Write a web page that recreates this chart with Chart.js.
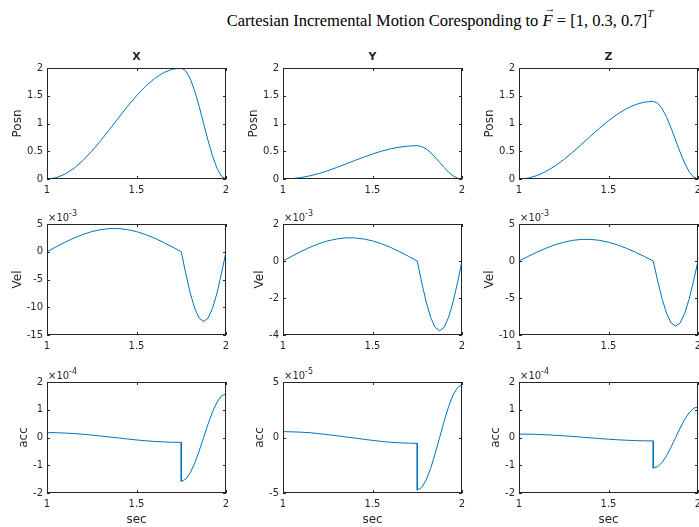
<!DOCTYPE html>
<html>
<head>
<meta charset="utf-8">
<script src="https://cdn.jsdelivr.net/npm/chart.js@4.4.1/dist/chart.umd.min.js"></script>
<style>
  body { margin: 0; width: 699px; height: 527px; overflow: hidden; background: #fff; position: relative; }
  canvas { position: absolute; }
  #title { position: absolute; top: 9px; left: 0; width: 880px; text-align: center; white-space: nowrap;
           font-family: "Liberation Serif", "DejaVu Serif", serif; font-size: 16.5px; color: #000; }
  #title .vec { position: relative; font-style: italic; }
  #title .arr { position: absolute; left: 2px; top: -9px; font-size: 11px; font-style: normal; }
  #title sup { font-size: 11px; font-style: italic; position: relative; top: -2px; }
</style>
</head>
<body>
<div id="title">Cartesian Incremental Motion Coresponding to <span class="vec">F<span class="arr">&rarr;</span></span> = [1, 0.3, 0.7]<sup>T</sup></div>
<script>
// time samples (sec)
const tPos = [1.00, 1.05, 1.10, 1.15, 1.20, 1.25, 1.30, 1.35, 1.40, 1.45, 1.50, 1.55, 1.60, 1.65, 1.70, 1.75,
              1.775, 1.80, 1.825, 1.85, 1.875, 1.90, 1.925, 1.95, 1.975, 2.00];
// acc has a jump at 1.75 so that time is listed twice
const tAcc = [1.00, 1.05, 1.10, 1.15, 1.20, 1.25, 1.30, 1.35, 1.40, 1.45, 1.50, 1.55, 1.60, 1.65, 1.70, 1.75,
              1.75, 1.775, 1.80, 1.825, 1.85, 1.875, 1.90, 1.925, 1.95, 1.975, 2.00];

// position
const posX = [0, 0.022, 0.087, 0.191, 0.331, 0.5, 0.691, 0.896, 1.105, 1.309, 1.5, 1.669, 1.809, 1.914, 1.978, 2.0,
              1.951, 1.809, 1.588, 1.309, 1.0, 0.691, 0.412, 0.191, 0.049, 0];
const posY = [0, 0.007, 0.026, 0.057, 0.099, 0.15, 0.207, 0.269, 0.332, 0.393, 0.45, 0.501, 0.543, 0.574, 0.593, 0.6,
              0.585, 0.543, 0.476, 0.393, 0.3, 0.207, 0.124, 0.057, 0.015, 0];
const posZ = [0, 0.015, 0.061, 0.134, 0.232, 0.35, 0.484, 0.627, 0.773, 0.916, 1.05, 1.168, 1.266, 1.340, 1.385, 1.4,
              1.366, 1.266, 1.111, 0.916, 0.7, 0.484, 0.288, 0.134, 0.034, 0];

// velocity (x 10^-3)
const velX = [0, 0.87, 1.70, 2.46, 3.11, 3.63, 3.98, 4.17, 4.17, 3.98, 3.63, 3.11, 2.46, 1.70, 0.87, 0,
              -3.88, -7.39, -10.17, -11.95, -12.57, -11.95, -10.17, -7.39, -3.88, 0];
const velY = [0, 0.26, 0.51, 0.74, 0.93, 1.09, 1.19, 1.25, 1.25, 1.19, 1.09, 0.93, 0.74, 0.51, 0.26, 0,
              -1.16, -2.22, -3.05, -3.59, -3.77, -3.59, -3.05, -2.22, -1.16, 0];
const velZ = [0, 0.61, 1.19, 1.72, 2.18, 2.54, 2.79, 2.92, 2.92, 2.79, 2.54, 2.18, 1.72, 1.19, 0.61, 0,
              -2.72, -5.17, -7.12, -8.37, -8.80, -8.37, -7.12, -5.17, -2.72, 0];

// acceleration (x 10^-4, x 10^-5, x 10^-4)
const accX = [0.175, 0.172, 0.160, 0.142, 0.117, 0.088, 0.054, 0.018, -0.018, -0.054, -0.088, -0.117, -0.142, -0.160, -0.172, -0.175,
              -1.579, -1.502, -1.277, -0.928, -0.488, 0, 0.488, 0.928, 1.277, 1.502, 1.579];
const accY = [0.53, 0.51, 0.48, 0.43, 0.35, 0.26, 0.16, 0.05, -0.05, -0.16, -0.26, -0.35, -0.43, -0.48, -0.51, -0.53,
              -4.74, -4.51, -3.83, -2.78, -1.46, 0, 1.46, 2.78, 3.83, 4.51, 4.74];
const accZ = [0.123, 0.120, 0.112, 0.099, 0.082, 0.061, 0.038, 0.013, -0.013, -0.038, -0.061, -0.082, -0.099, -0.112, -0.120, -0.123,
              -1.105, -1.051, -0.894, -0.650, -0.341, 0, 0.341, 0.650, 0.894, 1.051, 1.105];

// axis settings, row by row
const colTitles = ['X', 'Y', 'Z'];
const rowLabels = ['Posn', 'Vel', 'acc'];
const yMin  = [[0, 0, 0], [-15, -4, -10], [-2, -5, -2]];
const yMax  = [[2, 2, 2], [5, 2, 5], [2, 5, 2]];
const yStep = [[0.5, 0.5, 0.5], [5, 2, 5], [1, 5, 1]];
const yExp  = [[null, null, null], ['-3', '-3', '-3'], ['-4', '-5', '-4']];

const series = [[posX, posY, posZ], [velX, velY, velZ], [accX, accY, accZ]];
const times = [tPos, tPos, tAcc];

const colLeft = [47, 283, 519];
const rowTop = [68, 224, 382];
const TEXT = '#262626';
const FONT = '"DejaVu Sans", sans-serif';

// matlab prints 1 and 2, not 1.0 and 2.0
function tickText(v) {
    return String(parseFloat(v.toFixed(3)));
}

// Draws the matlab style box, inward ticks and the labels around each axes
const matlabAxes = {
    id: 'matlabAxes',
    afterDraw(chart, args, opts) {
        const ctx = chart.ctx;
        const a = chart.chartArea;
        const sx = chart.scales.x, sy = chart.scales.y;
        ctx.save();
        ctx.strokeStyle = '#262626';
        ctx.lineWidth = 1;
        ctx.strokeRect(a.left + 0.5, a.top + 0.5, a.right - a.left - 1, a.bottom - a.top - 1);
        ctx.beginPath();
        sx.ticks.forEach(t => {
            const p = Math.round(sx.getPixelForValue(t.value)) + 0.5;
            ctx.moveTo(p, a.bottom); ctx.lineTo(p, a.bottom - 3);
            ctx.moveTo(p, a.top); ctx.lineTo(p, a.top + 3);
        });
        sy.ticks.forEach(t => {
            const p = Math.round(sy.getPixelForValue(t.value)) + 0.5;
            ctx.moveTo(a.left, p); ctx.lineTo(a.left + 3, p);
            ctx.moveTo(a.right, p); ctx.lineTo(a.right - 3, p);
        });
        ctx.stroke();

        ctx.fillStyle = TEXT;
        // y label next to the widest tick label
        ctx.font = '10px ' + FONT;
        let maxW = 0;
        sy.ticks.forEach(t => { maxW = Math.max(maxW, ctx.measureText(t.label).width); });
        ctx.font = '12px ' + FONT;
        ctx.save();
        ctx.translate(a.left - 4 - maxW - 2 - 7, (a.top + a.bottom) / 2);
        ctx.rotate(-Math.PI / 2);
        ctx.textAlign = 'center';
        ctx.textBaseline = 'middle';
        ctx.fillText(opts.ylabel, 0, 0);
        ctx.restore();

        ctx.textAlign = 'center';
        ctx.textBaseline = 'middle';
        if (opts.title) {
            ctx.font = 'bold 11px ' + FONT;
            ctx.fillText(opts.title, (a.left + a.right) / 2, a.top - 11);
        }
        if (opts.xlabel) {
            ctx.font = '12px ' + FONT;
            ctx.fillText(opts.xlabel, (a.left + a.right) / 2, a.bottom + 27);
        }
        if (opts.exp) {
            ctx.textAlign = 'left';
            ctx.textBaseline = 'alphabetic';
            ctx.font = '10px ' + FONT;
            const base = '\u00d710';
            ctx.fillText(base, a.left + 1, a.top - 3);
            const w = ctx.measureText(base).width;
            ctx.font = '8px ' + FONT;
            ctx.fillText(opts.exp, a.left + 1 + w, a.top - 8);
        }
        ctx.restore();
    }
};

for (let r = 0; r < 3; r++) {
    for (let c = 0; c < 3; c++) {
        const canvas = document.createElement('canvas');
        canvas.width = 236;
        canvas.height = 171;
        canvas.style.left = (colLeft[c] - 47) + 'px';
        canvas.style.top = (rowTop[r] - 22) + 'px';
        document.body.appendChild(canvas);

        const t = times[r];
        const vals = series[r][c];
        const pts = t.map((x, i) => ({ x: x, y: vals[i] }));

        new Chart(canvas.getContext('2d'), {
            type: 'line',
            data: {
                datasets: [{
                    data: pts,
                    borderColor: '#0072BD',
                    borderWidth: 1,
                    pointRadius: 0,
                    tension: 0,
                    fill: false
                }]
            },
            options: {
                responsive: false,
                animation: false,
                devicePixelRatio: 1,
                layout: { padding: { left: 0, right: 10, top: 22, bottom: 0 } },
                plugins: {
                    legend: { display: false },
                    tooltip: { enabled: false },
                    matlabAxes: {
                        ylabel: rowLabels[r],
                        title: r === 0 ? colTitles[c] : null,
                        xlabel: r === 2 ? 'sec' : null,
                        exp: yExp[r][c]
                    }
                },
                scales: {
                    x: {
                        type: 'linear', min: 1, max: 2,
                        ticks: { stepSize: 0.5, padding: 5, color: TEXT, font: { family: FONT, size: 10 },
                                 maxRotation: 0, autoSkip: false, callback: tickText },
                        grid: { display: false, drawTicks: false },
                        border: { display: false },
                        afterFit(s) { s.height = 38; }
                    },
                    y: {
                        type: 'linear', min: yMin[r][c], max: yMax[r][c],
                        ticks: { stepSize: yStep[r][c], padding: 4, color: TEXT, font: { family: FONT, size: 10 },
                                 callback: tickText },
                        grid: { display: false, drawTicks: false },
                        border: { display: false },
                        afterFit(s) { s.width = 47; }
                    }
                }
            },
            plugins: [matlabAxes]
        });
    }
}
</script>
</body>
</html>
